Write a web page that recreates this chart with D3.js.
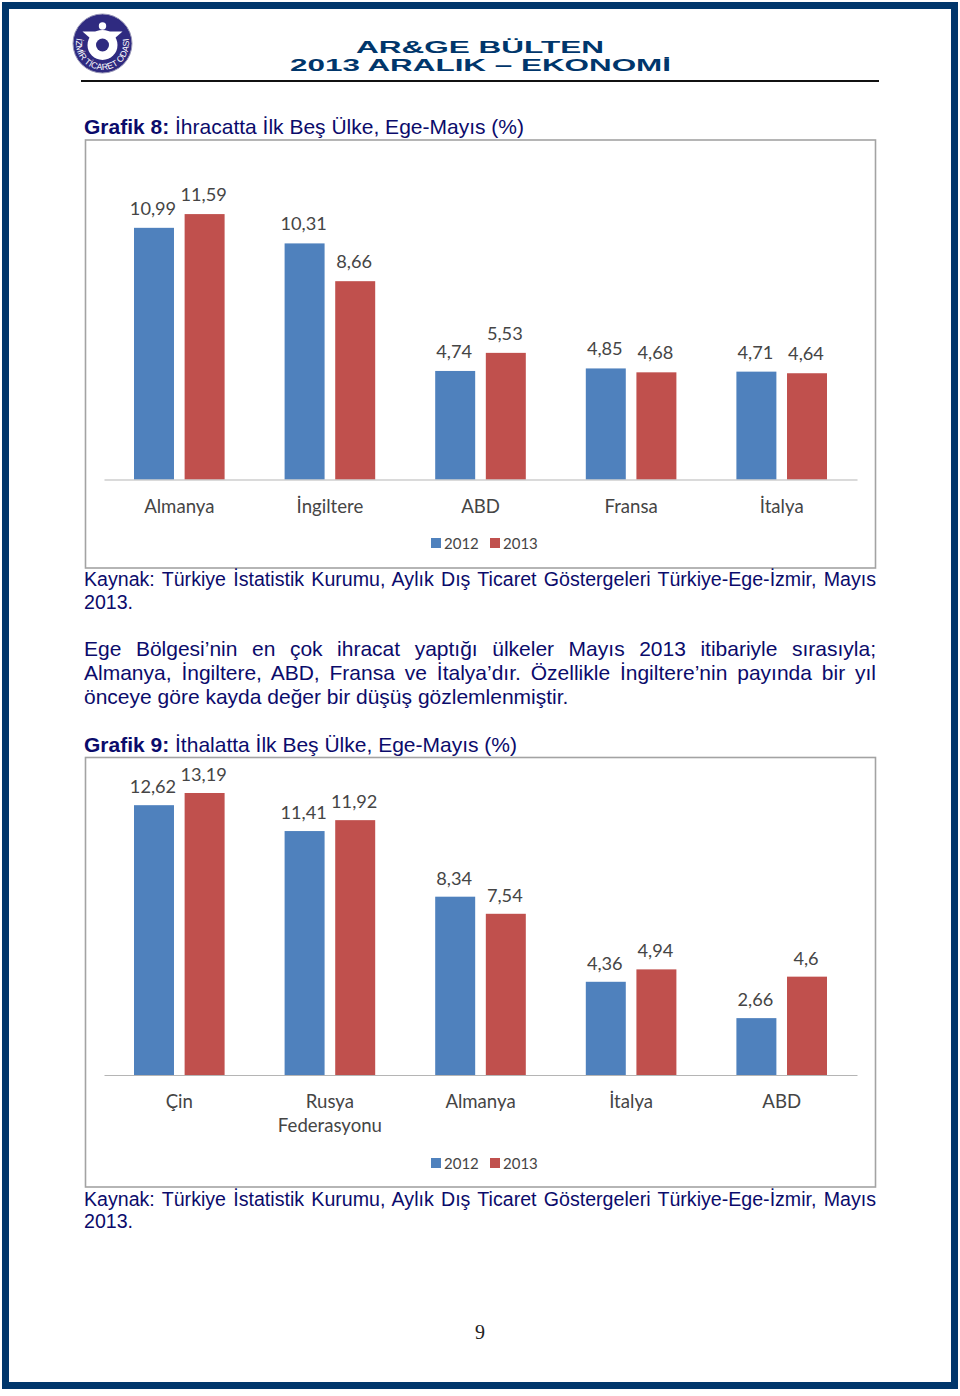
<!DOCTYPE html>
<html>
<head>
<meta charset="utf-8">
<script src="https://cdn.jsdelivr.net/npm/d3@7"></script>
<style>
html, body { margin: 0; padding: 0; background: #fff; }
svg { display: block; }
text { font-family: "Liberation Sans", Arial, sans-serif; }
.body { fill: #0b0b6b; }
.ctitle { fill: #0b0b6b; font-size: 21px; }
.lab { font-family: Lato, sans-serif; fill: #454545; }
</style>
</head>
<body>
<div id="page"></div>
<script>
// Grafik 8 - ihracat
var cat8 = ["Almanya", "İngiltere", "ABD", "Fransa", "İtalya"];
var v8_2012 = [10.99, 10.31, 4.74, 4.85, 4.71];
var v8_2013 = [11.59, 8.66, 5.53, 4.68, 4.64];

// Grafik 9 - ithalat
var cat9 = ["Çin", "Rusya\nFederasyonu", "Almanya", "İtalya", "ABD"];
var v9_2012 = [12.62, 11.41, 8.34, 4.36, 2.66];
var v9_2013 = [13.19, 11.92, 7.54, 4.94, 4.6];

var years = ["2012", "2013"];
var colors = ["#4f81bd", "#c0504d"];

var source = ["Kaynak: Türkiye İstatistik Kurumu, Aylık Dış Ticaret Göstergeleri Türkiye-Ege-İzmir, Mayıs", "2013."];
var para = [
    "Ege Bölgesi’nin en çok ihracat yaptığı ülkeler Mayıs 2013 itibariyle sırasıyla;",
    "Almanya, İngiltere, ABD, Fransa ve İtalya’dır. Özellikle İngiltere’nin payında bir yıl",
    "önceye göre kayda değer bir düşüş gözlemlenmiştir."
];

var W = 960, H = 1396;
var svg = d3.select("#page").append("svg").attr("width", W).attr("height", H);

// page frame
svg.append("rect").attr("x", 5.5).attr("y", 5.5).attr("width", 949).attr("height", 1380)
    .attr("fill", "#fff").attr("stroke", "#00366b").attr("stroke-width", 7);

// header
function logo(g){
    var c = "#2f2a80";
    g.append("circle").attr("r", 29.5).attr("fill", c).attr("stroke", "#9a98b8").attr("stroke-width", 1);
    g.append("path").attr("d", "M-20,-12 L20,-12 L12,-5 L-12,-5 Z").attr("fill", "#fff");
    g.append("circle").attr("cy", -17.5).attr("r", 3.7).attr("fill", "#fff");
    g.append("circle").attr("cy", 1.5).attr("r", 15).attr("fill", "#fff");
    g.append("circle").attr("cy", 1.5).attr("r", 6.5).attr("fill", c);
    g.append("path").attr("id", "logoArc").attr("d", "M-25.3,-8 A26.5,26.5 0 1 0 25.3,-8").attr("fill", "none");
    g.append("text").attr("font-size", 8.8).attr("fill", "#fff")
	.append("textPath").attr("href", "#logoArc").attr("startOffset", "50%").attr("text-anchor", "middle")
	.text("İZMİR TİCARET ODASI");
}
logo(svg.append("g").attr("transform", "translate(102.5,43.5)"));

svg.append("text").attr("x", 356).attr("y", 52.5).attr("font-size", 16.5).attr("font-weight", "bold").attr("fill", "#00366b")
    .attr("textLength", 248).attr("lengthAdjust", "spacingAndGlyphs").text("AR&GE BÜLTEN");
svg.append("text").attr("x", 290).attr("y", 70.5).attr("font-size", 16.5).attr("font-weight", "bold").attr("fill", "#00366b")
    .attr("textLength", 381).attr("lengthAdjust", "spacingAndGlyphs").text("2013 ARALIK – EKONOMİ");
svg.append("line").attr("x1", 81).attr("x2", 879).attr("y1", 81).attr("y2", 81).attr("stroke", "#111").attr("stroke-width", 2);

function title(y, bold, rest){
    var t = svg.append("text").attr("class", "ctitle").attr("x", 84).attr("y", y);
    t.append("tspan").attr("font-weight", "bold").text(bold);
    t.append("tspan").text(" " + rest);
}

// justified line, only word gaps are stretched
function textLine(txt, y, size, justify){
    var t = svg.append("text").attr("class", "body").attr("x", 84).attr("y", y).attr("font-size", size).text(txt);
    if(justify){
	var gaps = txt.split(" ").length - 1;
	var extra = (876 - 84 - t.node().getComputedTextLength()) / gaps;
	t.style("word-spacing", extra + "px");
    }
}

function chart(box, baseY, pxPerUnit, cats, a, b, legendY, labelGap){
    svg.append("rect").attr("x", 85.5).attr("y", box[0]).attr("width", 790).attr("height", box[1] - box[0])
	.attr("fill", "#fff").attr("stroke", "#a3a3a3").attr("stroke-width", 1.6);

    var x0 = d3.scaleBand().domain(cats).range([104, 857]);
    var x1 = d3.scaleBand().domain(years).range([30, x0.bandwidth() - 30]).paddingInner(0.21);
    var y = d3.scaleLinear().domain([0, 14]).range([baseY, baseY - 14 * pxPerUnit]);

    var rows = cats.map(function(c, i){ return {cat: c, vals: [a[i], b[i]]}; });
    var groups = svg.append("g").selectAll("g").data(rows).join("g")
	.attr("transform", function(d){ return "translate(" + x0(d.cat) + ",0)"; });

    groups.selectAll("rect").data(function(d){ return d.vals; }).join("rect")
	.attr("x", function(d, i){ return x1(years[i]); })
	.attr("y", function(d){ return y(d); })
	.attr("width", x1.bandwidth())
	.attr("height", function(d){ return baseY - y(d); })
	.attr("fill", function(d, i){ return colors[i]; });

    groups.selectAll("text").data(function(d){ return d.vals; }).join("text")
	.attr("class", "lab").attr("font-size", 18.2).attr("text-anchor", "middle")
	.attr("x", function(d, i){ return x1(years[i]) + x1.bandwidth() / 2 - 1; })
	.attr("y", function(d){ return y(d) - labelGap; })
	.text(function(d){ return String(d).replace(".", ","); });

    var axis = svg.append("g").attr("transform", "translate(0," + baseY + ")")
	.call(d3.axisBottom(x0).tickSize(0).tickSizeOuter(0).tickFormat(""));
    axis.select(".domain").attr("stroke", "#b5b5b5").attr("stroke-width", 1.2);
    axis.selectAll(".tick text").remove();
    axis.selectAll(".tick").append("text")
	.attr("class", "lab").attr("font-size", 18.6).attr("text-anchor", "middle")
	.attr("y", 33)
	.each(function(d){
	    var el = d3.select(this);
	    d.split("\n").forEach(function(s, i){
		el.append("tspan").attr("x", 0).attr("dy", i ? 24 : 0).text(s);
	    });
	});

    // legend
    var lx = [431, 490];
    years.forEach(function(yr, i){
	svg.append("rect").attr("x", lx[i]).attr("y", legendY - 5).attr("width", 10).attr("height", 10).attr("fill", colors[i]);
	svg.append("text").attr("class", "lab").attr("font-size", 15).attr("x", lx[i] + 13).attr("y", legendY + 5.5).text(yr);
    });
}

title(134, "Grafik 8:", "İhracatta İlk Beş Ülke, Ege-Mayıs (%)");
chart([140, 568], 479.5, 22.9, cat8, v8_2012, v8_2013, 543, 13);
textLine(source[0], 586, 19.6, true);
textLine(source[1], 609, 19.6, false);
textLine(para[0], 656, 21, true);
textLine(para[1], 680, 21, true);
textLine(para[2], 704, 21, false);

title(752, "Grafik 9:", "İthalatta İlk Beş Ülke, Ege-Mayıs (%)");
chart([757.5, 1187], 1075, 21.38, cat9, v9_2012, v9_2013, 1163, 12);
textLine(source[0], 1206, 19.6, true);
textLine(source[1], 1228, 19.6, false);

svg.append("text").attr("x", 480).attr("y", 1339).attr("text-anchor", "middle")
    .style("font-family", "'Liberation Serif', serif").attr("font-size", 20).attr("fill", "#222").text("9");
</script>
</body>
</html>
